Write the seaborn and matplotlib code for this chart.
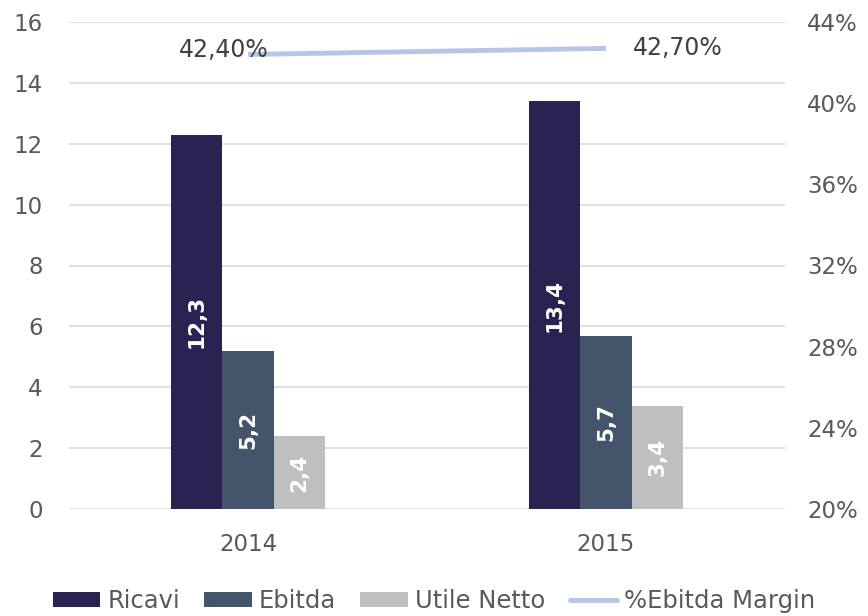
import matplotlib
matplotlib.use("Agg")
import matplotlib.pyplot as plt
import seaborn as sns
import pandas as pd
from matplotlib.patches import Patch
from matplotlib.lines import Line2D

years = ["2014", "2015"]
series = ["Ricavi", "Ebitda", "Utile Netto"]
ricavi = [12.3, 13.4]
ebitda = [5.2, 5.7]
utile = [2.4, 3.4]
margin = [42.40, 42.70]
line_name = "%Ebitda Margin"
left_ticks = [0, 2, 4, 6, 8, 10, 12, 14, 16]
right_ticks = [20, 24, 28, 32, 36, 40, 44]

colors = ["#2A2250", "#44546A", "#BFBFBF"]
line_color = "#B4C7E7"
text_color = "#595959"

sns.set_theme(style="white")
plt.rcParams["font.family"] = ["DejaVu Sans"]

df = pd.DataFrame({
    "Anno": years * 3,
    "Serie": [s for s in series for _ in years],
    "Valore": ricavi + ebitda + utile,
})

fig = plt.figure(figsize=(8.68, 6.16), dpi=100)
ax = fig.add_axes([69 / 868, 1 - 509 / 616, (785 - 69) / 868, (509 - 22) / 616])

sns.barplot(data=df, x="Anno", y="Valore", hue="Serie", order=years,
            hue_order=series, palette=colors, width=0.43, gap=0,
            saturation=1, legend=False, ax=ax, edgecolor="none", linewidth=0)

for cont in ax.containers:
    labels = [f"{v:.1f}".replace(".", ",") for v in cont.datavalues]
    for rect, lab in zip(cont.patches, labels):
        cx = rect.get_x() + rect.get_width() / 2
        cy = rect.get_y() + rect.get_height() / 2
        ax.text(cx, cy, lab, rotation=90, ha="center", va="center",
                color="white", fontsize=15.5, fontweight="bold")

ax.set_xlim(-0.5, 1.5)
ax.set_ylim(0, 16)
ax.set_yticks(left_ticks)
ax.set_yticklabels([str(t) for t in left_ticks])
ax.grid(axis="y", color="#D9D9D9", linewidth=1.2)
ax.set_axisbelow(True)
for s in ax.spines.values():
    s.set_visible(False)
ax.set_xlabel("")
ax.set_ylabel("")
ax.tick_params(axis="both", length=0, labelsize=16.5, colors=text_color)
ax.tick_params(axis="y", pad=19)
ax.tick_params(axis="x", pad=17)

ax2 = ax.twinx()
ax2.plot([0, 1], margin, color=line_color, linewidth=3.5, solid_capstyle="butt")
ax2.set_ylim(20, 44)
ax2.set_yticks(right_ticks)
ax2.set_yticklabels([f"{t}%" for t in right_ticks])
ax2.tick_params(axis="y", length=0, labelsize=16.5, colors=text_color, pad=16)
for s in ax2.spines.values():
    s.set_visible(False)

ax2.annotate(f"{margin[0]:.2f}%".replace(".", ","), (0, margin[0]),
             xytext=(14.5, 3), textcoords="offset points", ha="right", va="center",
             fontsize=17, color="#404040")
ax2.annotate(f"{margin[1]:.2f}%".replace(".", ","), (1, margin[1]),
             xytext=(19, 0), textcoords="offset points", ha="left", va="center",
             fontsize=17, color="#404040")

handles = [Patch(facecolor=c, edgecolor="none") for c in colors]
handles.append(Line2D([0], [0], color=line_color, linewidth=3.5))
fig.legend(handles, series + [line_name], loc="center", ncol=4,
           bbox_to_anchor=(0.5, 0.024), frameon=False, fontsize=17.5,
           labelcolor=text_color, handlelength=1.95, handleheight=0.6,
           handletextpad=0.3, columnspacing=1.0)

fig.savefig("out.png", dpi=100)
